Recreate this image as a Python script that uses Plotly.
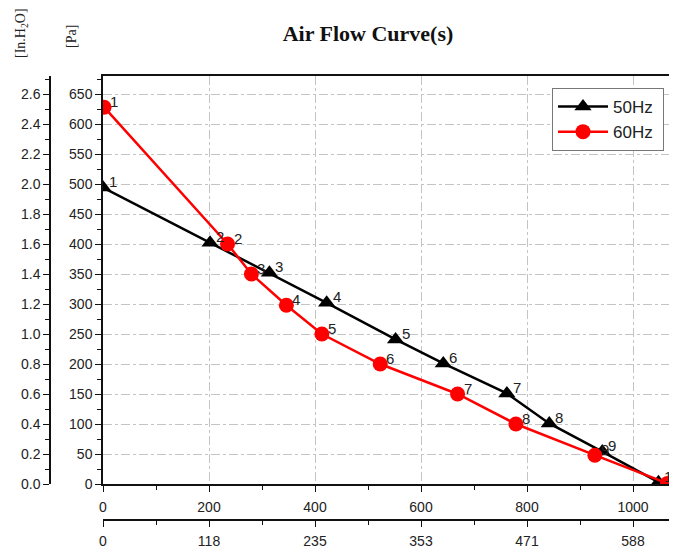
import plotly.graph_objects as go

# ---- data ----
labels_50 = ["1", "2", "3", "4", "5", "6", "7", "8", "9", "10"]
flow_50 = [0, 202, 314, 422, 552, 642, 762, 842, 942, 1048]      # m3/h
press_50 = [494, 402, 352, 302, 241, 201, 151, 101, 54, 3]       # Pa

labels_60 = ["1", "2", "3", "4", "5", "6", "7", "8", "9", "10"]
flow_60 = [2, 235, 280, 346, 413, 523, 669, 779, 928, 1065]      # m3/h
press_60 = [628, 400, 350, 298, 250, 200, 150, 100, 48, 1]       # Pa

x_ticks = [0, 200, 400, 600, 800, 1000]
cfm_labels = ["0", "118", "235", "353", "471", "588"]
pa_ticks = [0, 50, 100, 150, 200, 250, 300, 350, 400, 450, 500, 550, 600, 650]
inh2o_ticks = [0.0, 0.2, 0.4, 0.6, 0.8, 1.0, 1.2, 1.4, 1.6, 1.8, 2.0, 2.2, 2.4, 2.6]

PA_MAX = 680
PA_PER_INH2O = 250.0
X_MAX = 1083

# the page body adds an 8px margin around the figure; work in window pixels
OFF = 8
WIN_W, WIN_H = 677, 553
W, H = WIN_W - OFF, WIN_H - OFF

# layout targets in window pixels
plot_left, plot_right, plot_top, plot_bottom = 103, 677, 76, 484
paper_left, paper_bottom = 20, 533
cfm_axis_y = 520
inh2o_axis_x = 50

ML = paper_left - OFF
MR = WIN_W - plot_right
MT = plot_top - OFF
MB = WIN_H - paper_bottom
PW = W - ML - MR
PH = H - MT - MB


def pxx(tx):
    return (tx - OFF - ML) / PW


def pxy(ty):
    return (H - MB - (ty - OFF)) / PH


x_dom0 = pxx(plot_left)
y_dom0 = pxy(plot_bottom)
cfm_pos = pxy(cfm_axis_y)
inh_pos = pxx(inh2o_axis_x)

font_sans = "Liberation Sans, Arial, sans-serif"
font_serif = "Liberation Serif, Times New Roman, serif"

fig = go.Figure()

fig.add_trace(go.Scatter(
    x=flow_50, y=press_50, name="50Hz\u00a0", mode="lines+markers",
    line=dict(color="black", width=2.5),
    marker=dict(symbol="triangle-up", size=15, color="black"),
))
fig.add_trace(go.Scatter(
    x=flow_60, y=press_60, name="60Hz\u00a0", mode="lines+markers",
    line=dict(color="#ff0000", width=2.5),
    marker=dict(symbol="circle", size=15, color="#ff0000"),
))
# invisible helper traces so that the secondary axes are drawn
fig.add_trace(go.Scatter(x=flow_50, y=press_50, xaxis="x2", yaxis="y",
                         mode="markers", marker=dict(opacity=0),
                         showlegend=False, hoverinfo="skip"))
fig.add_trace(go.Scatter(x=flow_50, y=[p / PA_PER_INH2O for p in press_50],
                         xaxis="x", yaxis="y2",
                         mode="markers", marker=dict(opacity=0),
                         showlegend=False, hoverinfo="skip"))

annotations = []
for xs, ys, lbs in [(flow_50, press_50, labels_50), (flow_60, press_60, labels_60)]:
    for xv, yv, lb in zip(xs, ys, lbs):
        annotations.append(dict(
            x=xv, y=yv, xref="x", yref="y", text=lb, showarrow=False,
            xanchor="left", yanchor="middle", xshift=4, yshift=6,
            font=dict(family=font_sans, size=15, color="#222222"),
        ))

unit_labels = [
    (21, 33, "[In.H<sub>2</sub>O]"),
    (72, 37, "[Pa]"),
]
for px, py, txt in unit_labels:
    annotations.append(dict(
        x=pxx(px), y=pxy(py), xref="paper", yref="paper",
        text=txt, showarrow=False, textangle=-90, xanchor="center", yanchor="middle",
        font=dict(family=font_serif, size=14, color="#222"),
    ))

grid_style = dict(showgrid=True, gridcolor="#c4c4c4", gridwidth=1, griddash="dashdot")
minor_common = dict(ticks="outside", ticklen=4, tickcolor="#111", showgrid=False)

fig.update_layout(
    width=W, height=H,
    margin=dict(l=ML, r=MR, t=MT, b=MB, autoexpand=False),
    paper_bgcolor="white", plot_bgcolor="white",
    font=dict(family=font_sans, size=14, color="#222"),
    title=dict(text="<b>Air Flow Curve(s)</b>", x=pxx(368), xref="paper",
               xanchor="center", y=1 - (33 - OFF) / H, yref="container", yanchor="middle",
               font=dict(family=font_serif, size=22, color="#111")),
    showlegend=True,
    legend=dict(x=pxx(552), y=pxy(88), xanchor="left", yanchor="top",
                bordercolor="#777", borderwidth=1, bgcolor="white",
                font=dict(family=font_sans, size=17, color="#222"),
                tracegroupgap=0, itemwidth=50),
    xaxis=dict(
        domain=[x_dom0, 1], range=[0, X_MAX], anchor="y", automargin=False,
        tickmode="array", tickvals=x_ticks, ticks="outside", ticklen=6,
        tickcolor="#111", showline=True, linecolor="#111", linewidth=1.5,
        mirror=True, zeroline=False, ticklabelstandoff=3,
        minor=dict(dtick=100, **minor_common),
        tickfont=dict(size=14), **grid_style,
    ),
    xaxis2=dict(
        overlaying="x", anchor="free", position=cfm_pos, side="bottom", automargin=False,
        range=[0, X_MAX], tickmode="array", tickvals=x_ticks, ticktext=cfm_labels,
        ticks="outside", ticklen=6, tickcolor="#111", showline=True,
        linecolor="#111", linewidth=1.5, showgrid=False, zeroline=False,
        ticklabelstandoff=2,
        minor=dict(dtick=100, **minor_common),
        tickfont=dict(size=14),
    ),
    yaxis=dict(
        domain=[y_dom0, 1], range=[0, PA_MAX], anchor="x", automargin=False,
        tickmode="array", tickvals=pa_ticks, ticks="outside", ticklen=6,
        tickcolor="#111", showline=True, linecolor="#111", linewidth=1.5,
        zeroline=False,
        minor=dict(dtick=25, **minor_common),
        tickfont=dict(size=14), **grid_style,
    ),
    yaxis2=dict(
        overlaying="y", anchor="free", position=inh_pos, side="left", automargin=False,
        range=[0, PA_MAX / PA_PER_INH2O], tickmode="array", tickvals=inh2o_ticks,
        ticktext=[f"{v:.1f}" for v in inh2o_ticks],
        ticks="outside", ticklen=6, tickcolor="#111", showline=True,
        linecolor="#111", linewidth=1.5, showgrid=False, zeroline=False,
        minor=dict(dtick=0.1, **minor_common),
        tickfont=dict(size=14),
    ),
    annotations=annotations,
)

fig.write_html("out.html")
